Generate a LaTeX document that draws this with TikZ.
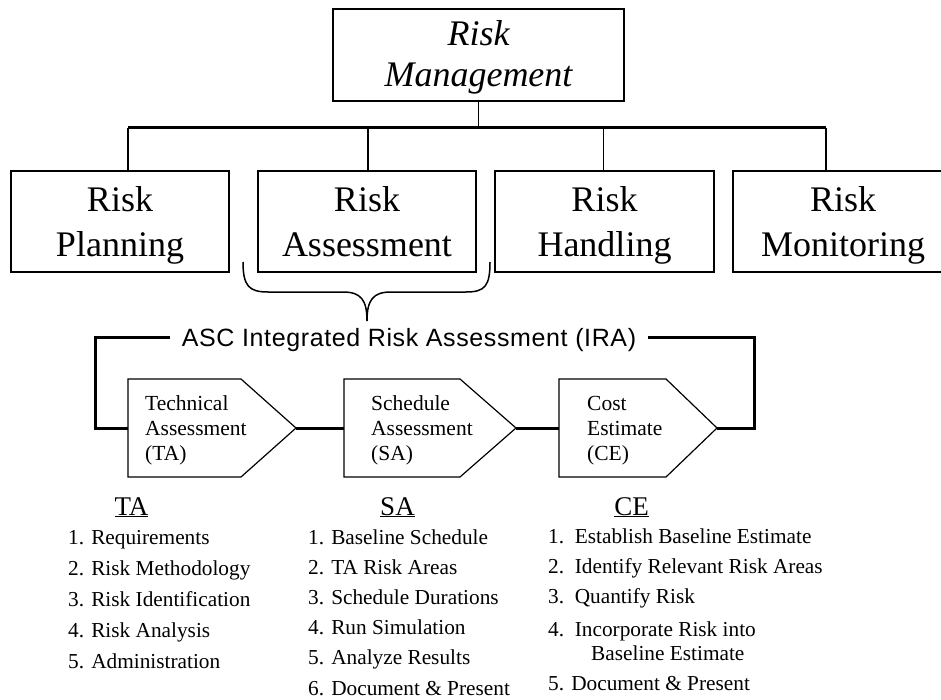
\documentclass[tikz,border=0pt]{standalone}
\usepackage{fontspec}
\setmainfont{Liberation Serif}
\newfontfamily\irafont[LetterSpace=2.5]{Liberation Sans}
\begin{document}
\begin{tikzpicture}[x=1pt,y=-1pt,
  box/.style={draw,line width=1.2pt,inner sep=0pt,minimum height=101pt,align=center,
    font=\fontsize{36}{45}\selectfont,text height=75pt,text depth=4pt},
  topbox/.style={draw,line width=1.2pt,inner sep=0pt,minimum height=92pt,minimum width=291pt,align=center,
    font=\fontsize{36}{41}\selectfont\itshape,text height=68pt,text depth=4pt},
  thinline/.style={line width=1.2pt},
  thickline/.style={line width=3pt},
  pent/.style={draw,line width=1.2pt},
  ptext/.style={anchor=base west,inner sep=0pt,align=left,font=\fontsize{21.5}{25}\selectfont},
  listtext/.style={anchor=base west,inner sep=0pt,align=left,font=\fontsize{21.3}{30.8}\selectfont},
  head/.style={anchor=base,inner sep=0pt,font=\fontsize{27}{30}\selectfont},
  ira/.style={inner sep=12pt,font=\irafont\fontsize{25}{28}\selectfont,text height=18pt,text depth=0pt}
]
\useasboundingbox (0,0) rectangle (941,700);
\clip (0,0) rectangle (941,700);

% top box
\node[topbox] (RM) at (478.5,55) {Risk\\Management};

% second row
\node[box,minimum width=218pt] (Plan) at (120,221.5) {Risk\\Planning};
\node[box,minimum width=218pt] (Assess) at (367,221.5) {Risk\\Assessment};
\node[box,minimum width=219pt] (Handle) at (604.5,221.5) {Risk\\Handling};
\node[box,minimum width=220pt] (Monit) at (843,221.5) {Risk\\Monitoring};

% tree connectors
\coordinate (busL) at (128,128);
\coordinate (busR) at (826,128);
\draw[thickline] (busL) -- (busR);
\draw[thinline] (RM.south) -- (RM.south |- busL);
\draw[thinline] (busL) -- (busL |- Plan.north);
\draw[thinline] ([xshift=1pt]Assess.north |- busL) -- ([xshift=1pt]Assess.north);
\draw[thinline] ([xshift=-1pt]Handle.north |- busL) -- ([xshift=-1pt]Handle.north);
\draw[thinline] (busR) -- (busR |- Monit.north);

% brace
\draw[line width=1.5pt] (243,262) .. controls (243,286) and (249,292) .. (268,292)
  -- (343,292) .. controls (361,292) and (367,300) .. (367,321)
  .. controls (367,300) and (373,292) .. (391,292)
  -- (466,292) .. controls (485,292) and (490,286) .. (490,262);

% IRA label and loop
\node[ira] (IRA) at (409,337) {ASC Integrated Risk Assessment (IRA)};

% pentagons
\draw[pent] (128,379) -- (241,379) -- (296,428) -- (241,477) -- (128,477) -- cycle;
\draw[pent] (344,379) -- (460,379) -- (516,428) -- (460,477) -- (344,477) -- cycle;
\draw[pent] (559,379) -- (666,379) -- (717,428) -- (666,477) -- (559,477) -- cycle;
\coordinate (TAw) at (128,428);
\coordinate (TAe) at (296,428);
\coordinate (SAw) at (344,428);
\coordinate (SAe) at (516,428);
\coordinate (CEw) at (559,428);
\coordinate (CEe) at (717,428);
\coordinate (lc) at (95,337);
\coordinate (rc) at (754,337);

\node[ptext] (TAt) at (145,460) {Technical\\Assessment\\(TA)};
\node[ptext] (SAt) at (371,460) {Schedule\\Assessment\\(SA)};
\node[ptext] (CEt) at (587,460) {Cost\\Estimate\\(CE)};

\draw[thickline] (IRA.west) -- (lc) |- (TAw);
\draw[thickline] (TAe) -- (SAw);
\draw[thickline] (SAe) -- (CEw);
\draw[thickline] (IRA.east) -- (rc) |- (CEe);

% lists
\node[head] (TAh) at (131.5,515) {\underline{TA}};
\node[head] (SAh) at (397.5,515) {\underline{SA}};
\node[head] (CEh) at (631.5,515) {\underline{CE}};

\node[listtext] (TAl) at (68,668) {1. Requirements\\2. Risk Methodology\\3. Risk Identification\\4. Risk Analysis\\5. Administration};
\node[listtext,font=\fontsize{21.3}{30.2}\selectfont] (SAl) at (308,695) {1. Baseline Schedule\\2. TA Risk Areas\\3. Schedule Durations\\4. Run Simulation\\5. Analyze Results\\6. Document \& Present};
\node[listtext] (CEl) at (548,690) {1.\ \ Establish Baseline Estimate\\[-0.8pt]2.\ \ Identify Relevant Risk Areas\\[-0.8pt]3.\ \ Quantify Risk\\[2.2pt]4.\ \ Incorporate Risk into\\[-6.8pt]\hspace*{43pt}Baseline Estimate\\[-0.8pt]5. Document \& Present};
\end{tikzpicture}
\end{document}
